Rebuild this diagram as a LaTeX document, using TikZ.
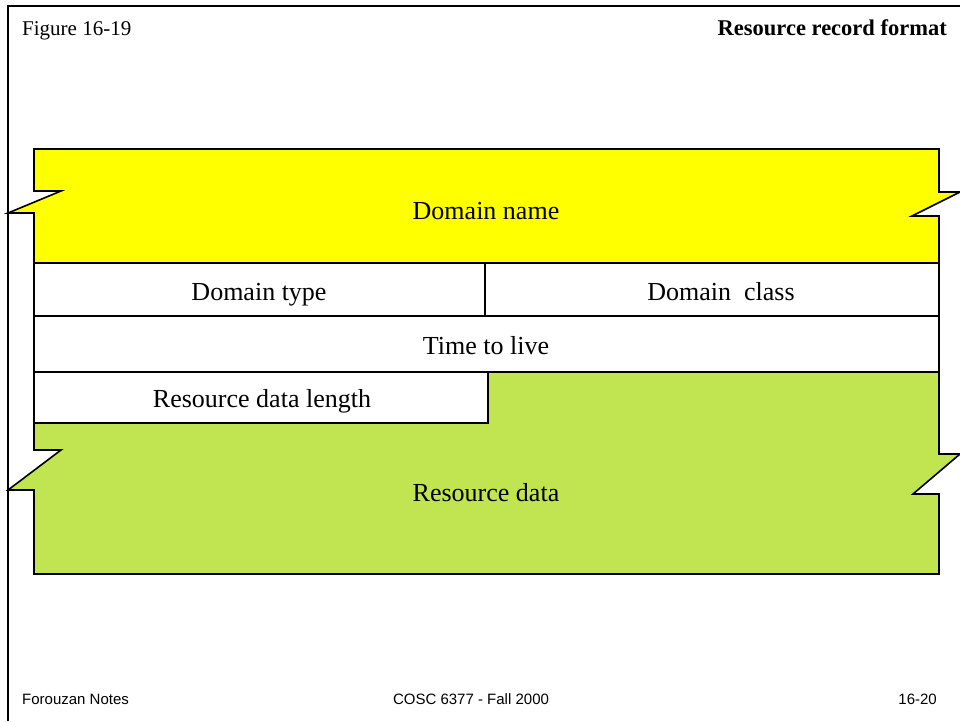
\documentclass[tikz,border=0pt]{standalone}
\usepackage{fontspec}
\setmainfont{Liberation Serif}
\newfontfamily\footfont{Liberation Sans}
\definecolor{dnyellow}{RGB}{255,255,0}
\definecolor{rdgreen}{RGB}{193,229,80}
\begin{document}
\begin{tikzpicture}[x=1pt,y=-1pt,
  outline/.style={draw=black,line width=1.6pt,line join=miter},
  bodytext/.style={font=\fontsize{26}{30}\selectfont,inner sep=0pt,anchor=base},
  headtext/.style={font=\fontsize{21}{25}\selectfont,inner sep=0pt},
  foottext/.style={font=\footfont\fontsize{15}{18}\selectfont,inner sep=0pt}]
\useasboundingbox (0,0) rectangle (960,721);
% frame
\draw[line width=1.8pt] (8,721) -- (8,6) -- (962,6);
% header
\node[headtext,anchor=base west] (fig) at (22,35) {Figure 16-19};
\node[headtext,anchor=base east,font=\fontsize{22.5}{26}\selectfont\bfseries] (title) at (947,35) {Resource record format};
% domain name (yellow)
\draw[outline,fill=dnyellow] (34,149) -- (939,149) -- (939,192) -- (960,192) -- (912,216) -- (939,216) -- (939,263)
  -- (34,263) -- (34,213) -- (8,213) -- (61,191) -- (34,191) -- cycle;
\node[bodytext] (dname) at (486,219) {Domain name};
% type / class
\draw[outline,fill=white] (34,263) rectangle (939,316);
\draw[outline] (485,263) -- (485,316);
\node[bodytext] (dtype) at (259,300) {Domain type};
\node[bodytext] (dclass) at (721,300) {Domain\ \ class};
% time to live
\draw[outline,fill=white] (34,316) rectangle (939,372);
\node[bodytext] (ttl) at (486,354) {Time to live};
% resource data (green)
\draw[outline,fill=rdgreen] (34,372) -- (939,372) -- (939,454) -- (960,454) -- (913,494) -- (939,494) -- (939,574)
  -- (34,574) -- (34,490) -- (8,490) -- (61,450) -- (34,450) -- cycle;
\draw[outline,fill=white] (34,372) rectangle (488,423);
\node[bodytext] (rdlen) at (262,407) {Resource data length};
\node[bodytext] (rdata) at (486,501) {Resource data};
% footer
\node[foottext,anchor=base west] (fnotes) at (22,704) {Forouzan Notes};
\node[foottext,anchor=base] (fcourse) at (471,704) {COSC 6377 - Fall 2000};
\node[foottext,anchor=base east] (fpage) at (937,704) {16-20};
\end{tikzpicture}
\end{document}
